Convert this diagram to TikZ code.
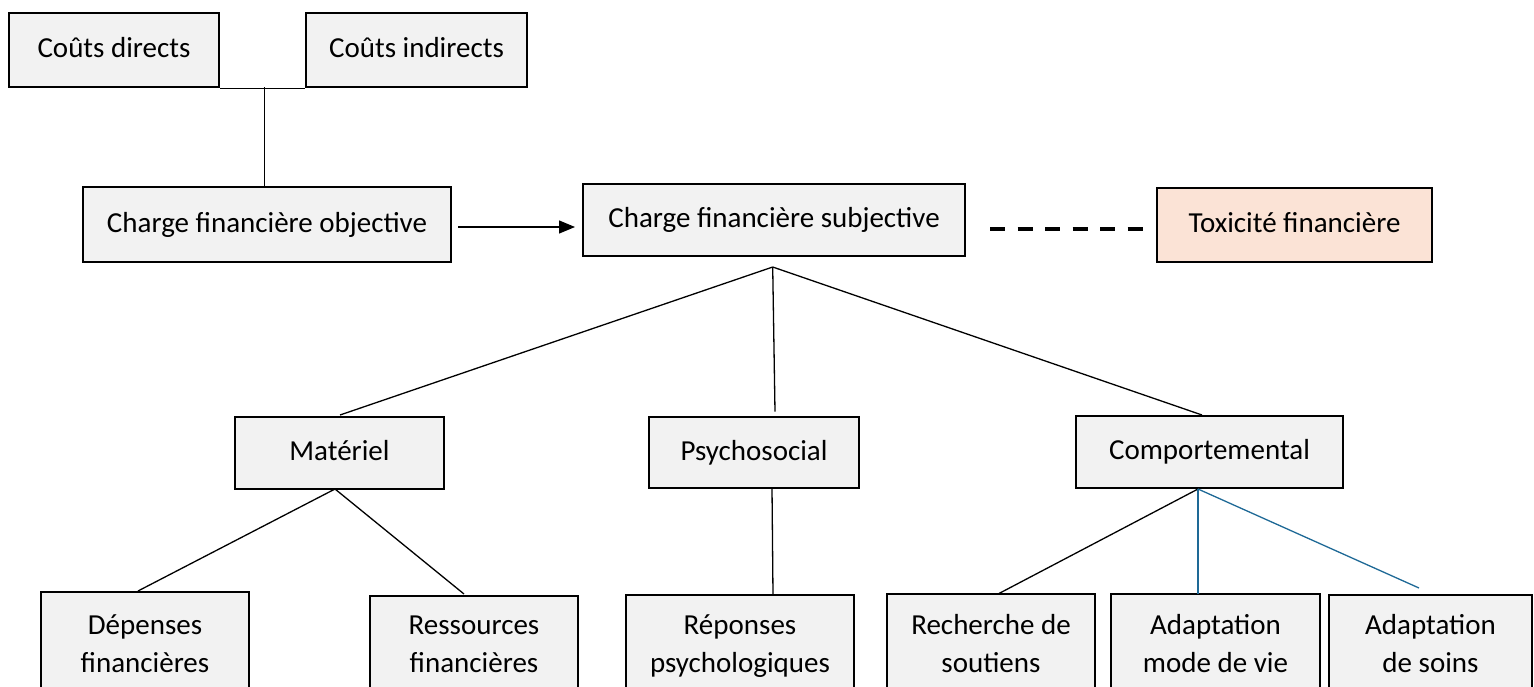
\documentclass[tikz,border=0pt]{standalone}
\usepackage{fontspec}
\setmainfont{Carlito}
\usetikzlibrary{arrows.meta}
\definecolor{boxgray}{HTML}{F2F2F2}
\definecolor{peach}{HTML}{FBE3D6}
\definecolor{linkblue}{RGB}{30,105,150}
\begin{document}
\begin{tikzpicture}[x=1pt,y=-1pt,
  boxbase/.style={draw=black, line width=2.9pt, fill=boxgray, inner sep=0pt},
  onebox/.style={boxbase, font=\fontsize{29}{36}\selectfont, text height=20pt, text depth=5pt},
  twobox/.style={boxbase, align=center, font=\fontsize{29}{38}\selectfont},
  conn/.style={draw=black, line width=1.3pt},
  blueconn/.style={draw=linkblue, line width=1.3pt},
  dashconn/.style={draw=black, line width=3.5pt, dash pattern=on 15pt off 12.5pt},
  arrowconn/.style={draw=black, line width=1.3pt, -{Triangle[length=16pt,width=13pt]}}]
\useasboundingbox (0,0) rectangle (1534,686);
\clip (0,0) rectangle (1534,686);

% top level
\node[onebox, minimum width=210pt, minimum height=74pt] (cd) at (114,50) {Coûts directs};
\node[onebox, minimum width=221pt, minimum height=74pt] (ci) at (416.5,50) {Coûts indirects};
\node[onebox, minimum width=368pt, minimum height=75pt] (obj) at (267,224.5) {Charge financière objective};
\node[onebox, minimum width=382pt, minimum height=72pt] (subj) at (774,220) {Charge financière subjective};
\node[onebox, fill=peach, minimum width=275pt, minimum height=74pt] (tox) at (1294.5,225) {Toxicité financière};

% second level
\node[onebox, minimum width=209pt, minimum height=72pt] (mat) at (339.5,453) {Matériel};
\node[onebox, minimum width=210pt, minimum height=71pt] (psy) at (754,452.5) {Psychosocial};
\node[onebox, minimum width=267pt, minimum height=72pt] (com) at (1209.5,452) {Comportemental};

% bottom level
\node[twobox, minimum width=208pt, minimum height=106.8pt] (dep) at (145,645.4) {\strut Dépenses\\\strut financières};
\node[twobox, minimum width=208pt, minimum height=98.8pt] (res) at (474,645.4) {\strut Ressources\\\strut financières};
\node[twobox, minimum width=228pt, minimum height=100.8pt] (rep) at (740,645.4) {\strut Réponses\\\strut psychologiques};
\node[twobox, minimum width=208pt, minimum height=102.8pt] (rec) at (991,645.4) {\strut Recherche de\\\strut soutiens};
\node[twobox, minimum width=209pt, minimum height=102.8pt] (amv) at (1215.5,645.4) {\strut Adaptation\\\strut mode de vie};
\node[twobox, minimum width=203pt, minimum height=100.8pt] (ads) at (1430.5,645.4) {\strut Adaptation\\\strut de soins};

% connector end points
\coordinate (j1) at (264.5,87);
\coordinate (ar1) at (458,227);
\coordinate (ar2) at (575,227);
\coordinate (dl1) at (990,229);
\coordinate (dl2) at (1144,229);
\coordinate (sa) at (772.7,267);
\coordinate (matin) at (340,415);
\coordinate (psyin) at (775,411.7);
\coordinate (comin) at (1202,415);
\coordinate (matout) at (335,489);
\coordinate (depin) at (138,591);
\coordinate (resin) at (464,594);
\coordinate (psyout) at (772,488);
\coordinate (repin) at (773,595);
\coordinate (comout) at (1198,489);
\coordinate (recin) at (998,594);
\coordinate (amvin) at (1198,594);
\coordinate (adsin) at (1419,588);

% connectors
\draw[conn] (cd.south east) -- (ci.south west);
\draw[conn] (j1) -- (j1 |- obj.north);
\draw[arrowconn] (ar1) -- (ar2);
\draw[dashconn] (dl1) -- (dl2);
\draw[conn] (sa) -- (matin);
\draw[conn] (sa) -- (psyin);
\draw[conn] (sa) -- (comin);
\draw[conn] (matout) -- (depin);
\draw[conn] (matout) -- (resin);
\draw[conn] (psyout) -- (repin);
\draw[conn] (comout) -- (recin);
\draw[blueconn] (comout) -- (amvin);
\draw[blueconn] (comout) -- (adsin);
\end{tikzpicture}
\end{document}
